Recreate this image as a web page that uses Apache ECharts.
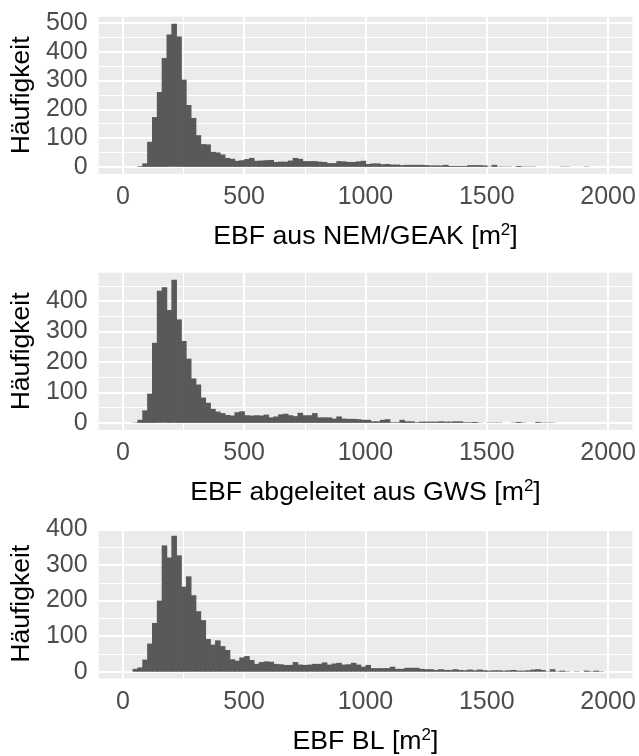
<!DOCTYPE html>
<html><head><meta charset="utf-8">
<script src="https://cdn.jsdelivr.net/npm/echarts@6/dist/echarts.min.js"></script>
<style>html,body{margin:0;padding:0;background:#fff}#c{width:639px;height:756px}</style>
</head><body><div id="c"></div>
<script>
// bin starts (m2), bin width 20
const binStarts = [0,20,40,60,80,100,120,140,160,180,200,220,240,260,280,300,320,340,360,380,
400,420,440,460,480,500,520,540,560,580,600,620,640,660,680,700,720,740,760,780,
800,820,840,860,880,900,920,940,960,980,1000,1020,1040,1060,1080,1100,1120,1140,1160,1180,
1200,1220,1240,1260,1280,1300,1320,1340,1360,1380,1400,1420,1440,1460,1480,1500,1520,1540,1560,1580,
1600,1620,1640,1660,1680,1700,1720,1740,1760,1780,1800,1820,1840,1860,1880,1900,1920,1940,1960,1980];
const binWidth = 20;

const countsNEM = [0,0,0,2,12,87,173,260,378,460,
497,453,303,215,170,110,79,78,52,50,
43,31,28,21,23,27,31,21,22,23,
24,17,18,18,22,31,28,20,20,20,
18,17,13,13,20,19,17,17,19,21,
10,12,12,9,10,8,8,6,7,7,
7,7,6,5,5,5,7,3,3,3,
3,6,6,6,5,1,7,1,1,1,
0,3,1,1,1,0,0,0,0,0,
1,1,0,0,0,1,0,0,0,0];

const countsGWS = [0,0,1,10,41,96,263,434,446,371,
470,340,269,211,146,126,83,66,46,37,
32,26,24,35,38,25,24,25,24,27,
18,21,28,30,25,22,33,25,25,32,
18,18,18,14,21,14,13,13,12,10,
10,5,5,10,12,2,2,10,5,5,
2,4,4,4,4,5,4,4,5,5,
2,2,3,1,0,1,1,1,0,0,
1,3,1,0,0,3,1,1,1,0,
0,0,0,0,0,0,0,0,0,0];

const countsBL = [0,0,8,12,34,79,137,200,355,321,
382,327,239,268,215,170,145,92,76,88,
72,61,35,31,40,44,33,22,27,29,
28,22,21,19,19,27,20,19,20,22,
22,26,20,23,25,20,21,25,20,14,
19,10,10,10,10,14,8,8,11,11,
11,8,7,7,5,7,5,5,7,5,
4,6,4,6,4,3,4,4,3,4,
5,3,3,4,6,7,5,1,7,1,
3,1,0,1,0,3,1,3,1,0];

const xTicks = [0,500,1000,1500,2000];
const xMinor = [250,750,1250,1750];
const yTicksNEM = [0,100,200,300,400,500];
const yMinorNEM = [50,150,250,350,450];
const yTicksGWS = [0,100,200,300,400];
const yMinorGWS = [50,150,250,350,450];
const yTicksBL = [0,100,200,300,400];
const yMinorBL = [50,150,250,350];

const yTitle = 'Häufigkeit';
const xTitles = ['EBF aus NEM/GEAK [m', 'EBF abgeleitet aus GWS [m', 'EBF BL [m'];

const FONT = '"Liberation Sans", Arial, sans-serif';
const panels = [
  {counts: countsNEM, yTicks: yTicksNEM, yMinor: yMinorNEM, top: 16.7, height: 157.3},
  {counts: countsGWS, yTicks: yTicksGWS, yMinor: yMinorGWS, top: 272.7, height: 157.3},
  {counts: countsBL, yTicks: yTicksBL, yMinor: yMinorBL, top: 529, height: 156.7}
];

const plain = v => String(v);
const grid = [], xAxis = [], yAxis = [], series = [];
panels.forEach((p, i) => {
  const maxC = Math.max(...p.counts);
  grid.push({left: 97, right: 6.7, top: p.top, height: p.height, show: true,
    backgroundColor: '#EBEBEB', borderWidth: 0});
  xAxis.push({type: 'value', gridIndex: i, min: -100, max: 2100,
    axisLine: {show: false},
    axisTick: {show: true, customValues: xTicks, length: 4.5, lineStyle: {color: '#333333', width: 1.5}},
    axisLabel: {customValues: xTicks, formatter: plain, fontSize: 25, color: '#4D4D4D', fontFamily: FONT, margin: 11},
    splitLine: {show: false},
    name: '{t|' + xTitles[i] + '}{s|2}{t|]}', nameLocation: 'middle', nameGap: 48,
    nameTextStyle: {rich: {
      t: {fontSize: 26.7, color: '#000', fontFamily: FONT, lineHeight: 30},
      s: {fontSize: 17, color: '#000', fontFamily: FONT, lineHeight: 17, verticalAlign: 'top'}
    }}
  });
  yAxis.push({type: 'value', gridIndex: i, min: -0.05 * maxC, max: 1.05 * maxC,
    axisLine: {show: false},
    axisTick: {show: true, customValues: p.yTicks, length: 4.5, lineStyle: {color: '#333333', width: 1.5}},
    axisLabel: {customValues: p.yTicks, formatter: plain, fontSize: 25, color: '#4D4D4D', fontFamily: FONT, margin: 11},
    splitLine: {show: false},
    name: yTitle, nameLocation: 'middle', nameGap: 61,
    nameTextStyle: {fontSize: 26.5, color: '#000', fontFamily: FONT}
  });
  const gl = [];
  xTicks.forEach(v => gl.push({xAxis: v, lineStyle: {width: 2}}));
  xMinor.forEach(v => gl.push({xAxis: v, lineStyle: {width: 1}}));
  p.yTicks.forEach(v => gl.push({yAxis: v, lineStyle: {width: 2}}));
  p.yMinor.forEach(v => gl.push({yAxis: v, lineStyle: {width: 1}}));
  series.push({
    type: 'custom', xAxisIndex: i, yAxisIndex: i, z: 10,
    data: binStarts.map((s, k) => [s, s + binWidth, p.counts[k]]),
    encode: {x: [0, 1], y: 2},
    renderItem: (params, api) => {
      if (api.value(2) <= 0) return null;
      const a = api.coord([api.value(0), api.value(2)]);
      const b = api.coord([api.value(1), 0]);
      return {type: 'rect', shape: {x: a[0], y: a[1], width: b[0] - a[0] + 0.7, height: b[1] - a[1]},
        style: {fill: '#595959'}};
    },
    markLine: {z: 1, silent: true, symbol: 'none', animation: false,
      label: {show: false}, emphasis: {disabled: true},
      lineStyle: {type: 'solid', color: '#FFFFFF', width: 2},
      data: gl}
  });
});

const chart = echarts.init(document.getElementById('c'));
chart.setOption({animation: false, grid, xAxis, yAxis, series});
</script></body></html>
